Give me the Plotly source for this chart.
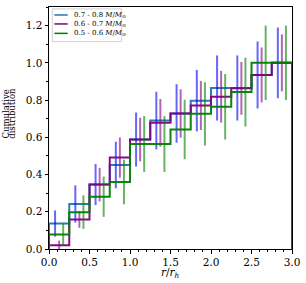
import numpy as np
import plotly.graph_objects as go

# ---- data ----
bin_edges = [0.0, 0.25, 0.5, 0.75, 1.0, 1.25, 1.5, 1.75, 2.0, 2.25, 2.5, 2.75, 3.0]
labels = ["0.7 - 0.8", "0.6 - 0.7", "0.5 - 0.6"]
cum_high = [0.137, 0.242, 0.346, 0.451, 0.588, 0.690, 0.728, 0.797, 0.865, 0.865, 0.935, 1.0]
err_high = [0.070, 0.100, 0.110, 0.125, 0.145, 0.155, 0.157, 0.165, 0.175, 0.175, 0.180, 0.190]
cum_mid = [0.020, 0.159, 0.346, 0.491, 0.588, 0.678, 0.728, 0.771, 0.818, 0.863, 0.935, 1.0]
err_mid = [0.025, 0.045, 0.090, 0.108, 0.117, 0.128, 0.130, 0.132, 0.139, 0.142, 0.148, 0.153]
cum_low = [0.078, 0.198, 0.281, 0.360, 0.564, 0.564, 0.642, 0.726, 0.764, 0.843, 1.0, 1.0]
err_low = [0.058, 0.090, 0.108, 0.120, 0.150, 0.150, 0.160, 0.170, 0.176, 0.185, 0.200, 0.200]
err_offsets = [-0.05, 0.0, 0.05]

step_colors = ["#1f77b4", "#800080", "#008000"]
err_colors = ["rgba(0,0,255,0.6)", "rgba(128,0,128,0.6)", "rgba(0,128,0,0.6)"]

FONT = "DejaVu Serif"

fig = go.Figure()
edges = np.array(bin_edges)
centers = (edges[:-1] + edges[1:]) / 2
for vals, errs, off, sc, ec in zip([cum_high, cum_mid, cum_low], [err_high, err_mid, err_low],
                                   err_offsets, step_colors, err_colors):
    v = np.array(vals)
    # step outline (histtype='step')
    sx = [edges[0]]
    sy = [0.0]
    for i in range(len(v)):
        sx += [edges[i], edges[i + 1]]
        sy += [v[i], v[i]]
    sx.append(edges[-1])
    sy.append(0.0)
    fig.add_trace(go.Scatter(x=sx, y=sy, mode="lines", line=dict(color=sc, width=2),
                             opacity=0.95, showlegend=False, hoverinfo="skip"))
    ex, ey = [], []
    for c, val, e in zip(centers, v, errs):
        ex += [c + off, c + off, None]
        ey += [val - e, val + e, None]
    fig.add_trace(go.Scatter(x=ex, y=ey, mode="lines", line=dict(color=ec, width=2),
                             showlegend=False, hoverinfo="skip"))

# ---- layout ----
fig.update_layout(
    width=306, height=283,
    margin=dict(l=49, r=14, t=7, b=34),
    paper_bgcolor="white", plot_bgcolor="white",
    font=dict(family=FONT, color="black", size=10.5),
    showlegend=False,
)
axis_common = dict(showgrid=False, zeroline=False, showline=True, linecolor="black",
                   linewidth=1, mirror=True, ticks="outside", ticklen=3.5, tickwidth=1,
                   tickcolor="black", tickfont=dict(family=FONT, size=10.5))
fig.update_xaxes(range=[0, 3], tick0=0, dtick=0.5, tickformat=".1f",
                 minor=dict(ticks="outside", ticklen=2, dtick=0.1, tickcolor="black"),
                 **axis_common)
fig.update_yaxes(range=[0, 1.3], tick0=0, dtick=0.2, tickformat=".1f",
                 minor=dict(ticks="outside", ticklen=2, dtick=0.1, tickcolor="black"),
                 **axis_common)

# axis titles
fig.add_annotation(text="<i>r</i>/<i>r</i><sub><i>h</i></sub>", xref="paper", yref="paper",
                   x=0.5, y=-0.06, yanchor="top", showarrow=False,
                   font=dict(family=FONT, size=10.5))
fig.add_annotation(text="Cumulative", xref="paper", yref="paper", x=-0.177, y=0.56,
                   textangle=-90, showarrow=False, xanchor="center", yanchor="middle",
                   font=dict(family=FONT, size=8.5))
fig.add_annotation(text="distribution", xref="paper", yref="paper", x=-0.151, y=0.56,
                   textangle=-90, showarrow=False, xanchor="center", yanchor="middle",
                   font=dict(family=FONT, size=8.5))

# legend (drawn manually to match matplotlib compact legend)
fig.add_shape(type="rect", xref="paper", yref="paper", x0=0.0136, x1=0.299, y0=0.857, y1=0.992,
              line=dict(color="#d0d0d0", width=1), fillcolor="rgba(255,255,255,0.85)")
leg_y = [0.967, 0.930, 0.891]
for lab, col, ly in zip(labels, step_colors, leg_y):
    fig.add_shape(type="line", xref="paper", yref="paper", x0=0.022, x1=0.077, y0=ly, y1=ly,
                  line=dict(color=col, width=1.5))
    fig.add_annotation(text=lab + " <i>M</i>/<i>M</i><sub>⊙</sub>", xref="paper", yref="paper",
                       x=0.093, y=ly, xanchor="left", yanchor="middle", showarrow=False,
                       font=dict(family=FONT, size=7))

fig.write_html("out.html", config={"displayModeBar": False},
               post_script="document.body.style.margin='0';document.body.style.padding='0';")
